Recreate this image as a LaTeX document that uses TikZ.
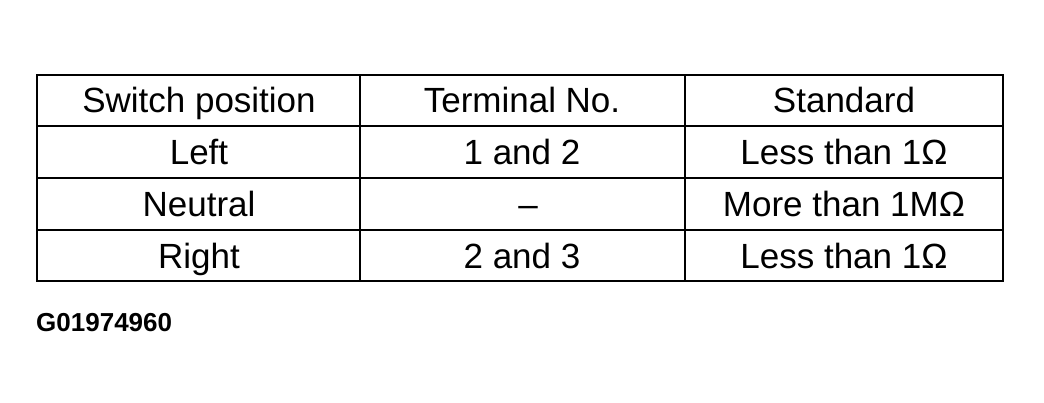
\documentclass[tikz,border=0pt]{standalone}
\usepackage{fontspec}
\setmainfont{Liberation Sans}
\begin{document}
\begin{tikzpicture}[x=1pt,y=-1pt,
  cell/.style={font=\fontsize{35}{38}\selectfont, anchor=base, inner sep=0pt},
  tag/.style={font=\bfseries\fontsize{26}{28}\selectfont, anchor=base west, inner sep=0pt}]
\useasboundingbox (0,0) rectangle (1044,402);
\draw[line width=2.5pt] (37,75) rectangle (1003,281);
\draw[line width=1.6pt] (360,75) -- (360,281) (685,75) -- (685,281)
  (37,126) -- (1003,126) (37,178) -- (1003,178) (37,230) -- (1003,230);
\node[cell] (h1) at (199,112) {Switch position};
\node[cell] (h2) at (522,112) {Terminal No.};
\node[cell] (h3) at (844,112) {Standard};
\node[cell] (a1) at (199,164) {Left};
\node[cell] (a2) at (522,164) {1 and 2};
\node[cell] (a3) at (844,164) {Less than 1Ω};
\node[cell] (b1) at (199,216) {Neutral};
\node[cell] (b2) at (528,216) {–};
\node[cell] (b3) at (844,216) {More than 1MΩ};
\node[cell] (c1) at (199,268) {Right};
\node[cell] (c2) at (522,268) {2 and 3};
\node[cell] (c3) at (844,268) {Less than 1Ω};
\node[tag] (id) at (36,331) {G01974960};
\end{tikzpicture}
\end{document}
